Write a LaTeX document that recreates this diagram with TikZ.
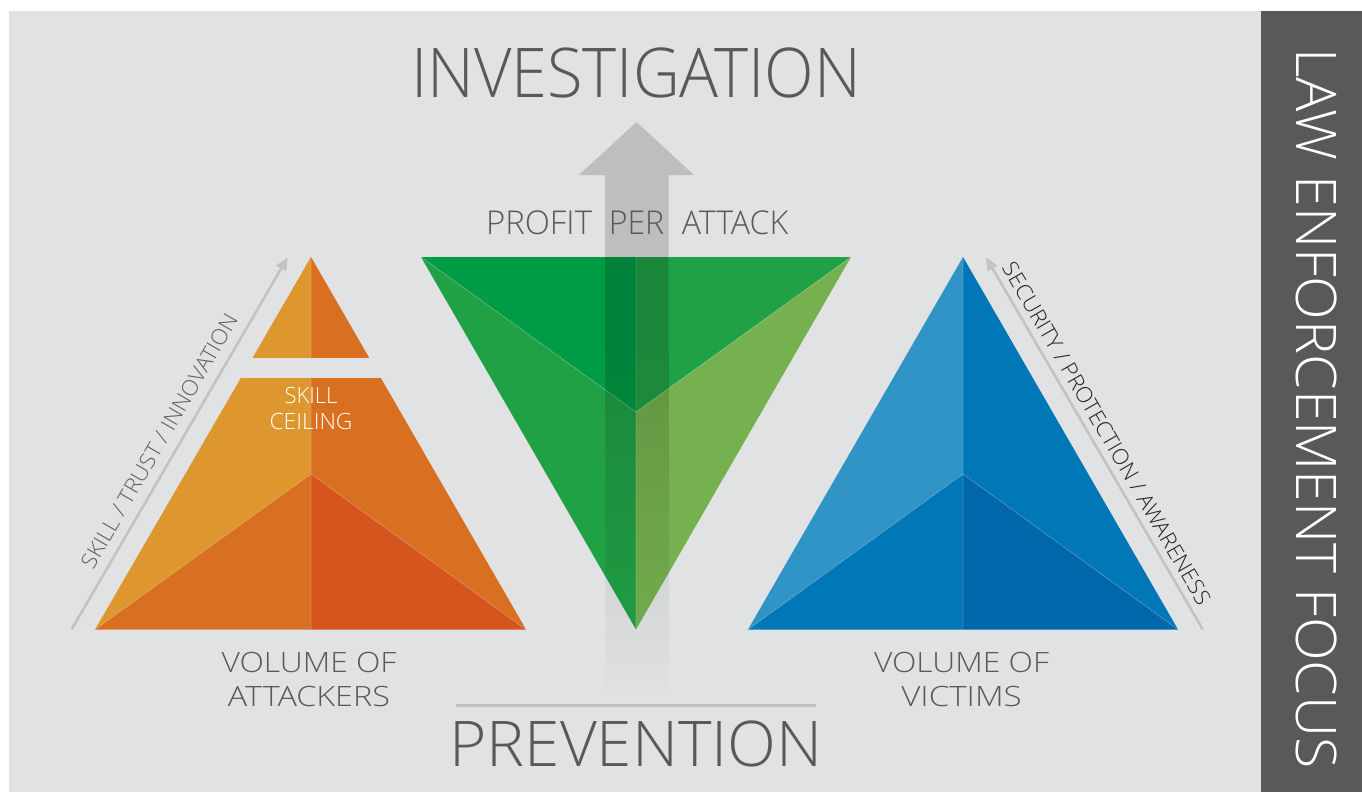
\documentclass[tikz,border=0pt]{standalone}
\usepackage{fontspec}
\IfFontExistsTF{Open Sans Light}{\setmainfont{Open Sans Light}}{\setmainfont{Open Sans}}
\usetikzlibrary{fadings,arrows.meta}
\definecolor{bgpanel}{HTML}{E1E2E4}
\definecolor{darkpanel}{HTML}{58595B}
\definecolor{txtgrey}{HTML}{58595B}
\definecolor{sidegrey}{HTML}{606163}
\definecolor{sidedark}{HTML}{262626}
\definecolor{arrgrey}{HTML}{C2C3C5}
\definecolor{orA}{HTML}{DE962E}
\definecolor{orB}{HTML}{D96F20}
\definecolor{orC}{HTML}{D6541E}
\definecolor{grA}{HTML}{009B45}
\definecolor{grB}{HTML}{21A146}
\definecolor{grC}{HTML}{76B150}
\definecolor{blA}{HTML}{3194C6}
\definecolor{blB}{HTML}{0077B6}
\definecolor{blC}{HTML}{0067AA}
\tikzfading[name=fadedown, top color=transparent!0, bottom color=transparent!100]
\newcommand\fittext[3]{\resizebox{#1pt}{\height}{\fontsize{#2pt}{#2pt}\selectfont #3}}
\begin{document}
\begin{tikzpicture}[x=1pt,y=-1pt,
  lbl/.style={inner sep=0pt, outer sep=0pt, text=txtgrey, anchor=base},
  facet/.style={white, opacity=0.22, line width=0.7pt},
  sidearrow/.style={arrgrey, line width=2.6pt, -{Triangle[length=13pt,width=11pt]}}]
\useasboundingbox (0,0) rectangle (1362,792);
\fill[white] (0,0) rectangle (1362,792);
\fill[bgpanel] (9,11) rectangle (1261,792);
\fill[darkpanel] (1261,11) rectangle (1362,792);

% orange pyramid
\coordinate (oA) at (311,257);
\coordinate (oL) at (95,629.5);
\coordinate (oR) at (526,629.5);
\coordinate (oM) at (311,474);
\coordinate (oB) at (311,629.5);
\fill[orA] (oA)--(oL)--(oM)--cycle;
\fill[orB] (oL)--(oB)--(oM)--cycle;
\fill[orB] (oA)--(oM)--(oR)--cycle;
\fill[orC] (oM)--(oB)--(oR)--cycle;
\draw[facet] (oA)--(oB) (oL)--(oM)--(oR);
\fill[bgpanel] (236,358) rectangle (388,378);

% green inverted pyramid
\coordinate (gL) at (421,257);
\coordinate (gR) at (851,257);
\coordinate (gT) at (636,257);
\coordinate (gM) at (636,412);
\coordinate (gB) at (636,629.5);
\fill[grA] (gL)--(gT)--(gM)--cycle;
\fill[grB] (gT)--(gR)--(gM)--cycle;
\fill[grB] (gL)--(gM)--(gB)--cycle;
\fill[grC] (gR)--(gM)--(gB)--cycle;
\draw[facet] (gT)--(gB) (gL)--(gM)--(gR);

% blue pyramid
\coordinate (bA) at (963,257);
\coordinate (bL) at (748,629.5);
\coordinate (bR) at (1178,629.5);
\coordinate (bM) at (963,474);
\coordinate (bB) at (963,629.5);
\fill[blA] (bA)--(bL)--(bM)--cycle;
\fill[blB] (bL)--(bB)--(bM)--cycle;
\fill[blB] (bA)--(bM)--(bR)--cycle;
\fill[blC] (bM)--(bB)--(bR)--cycle;
\draw[facet] (bA)--(bB) (bL)--(bM)--(bR);

% central arrow (translucent)
\fill[black, opacity=0.155] (636.5,122) -- (694,175) -- (668.5,175) -- (668.5,350)
  -- (605,350) -- (605,175) -- (579,175) -- cycle;
\fill[black, fill opacity=0.155, path fading=fadedown] (605,350) rectangle (668.5,700);

% side arrows
\coordinate (s1a) at (71.7,629.3);
\coordinate (s1b) at (287.7,257.3);
\coordinate (s2a) at (1202.7,629.3);
\coordinate (s2b) at (986,257.3);
\draw[sidearrow] (s1a) -- (s1b);
\draw[sidearrow] (s2a) -- (s2b);

% prevention rule
\coordinate (pl) at (456,705.6);
\coordinate (pr) at (816,705.6);
\draw[arrgrey, line width=3pt] (pl) -- (pr);

% texts
\node[lbl] (inv) at (636,97) {\fittext{450}{68.6}{INVESTIGATION}};
\node[lbl] (prev) at (636,766.7) {\fittext{373}{63}{PREVENTION}};
\node[lbl] (profit) at (539,234) {\fittext{106}{32.8}{PROFIT}};
\node[lbl] (per) at (636.5,234) {\fittext{55.5}{32.8}{PER}};
\node[lbl] (attack) at (735,234) {\fittext{106.5}{32.8}{ATTACK}};
\node[lbl, text=white] (skill) at (311,403.3) {\fittext{53}{22.4}{SKILL}};
\node[lbl, text=white] (ceil) at (311,429.3) {\fittext{83}{22.4}{CEILING}};
\node[lbl] (vo1) at (309,672) {\fittext{175}{28}{VOLUME OF}};
\node[lbl] (att) at (309,706) {\fittext{162}{28}{ATTACKERS}};
\node[lbl] (vo2) at (961.5,672) {\fittext{175}{28}{VOLUME OF}};
\node[lbl] (vic) at (961.5,706) {\fittext{120.5}{28}{VICTIMS}};
\node[inner sep=0pt, text=white, rotate=-90] (law) at (1317,408.5) {\fittext{720}{56}{LAW ENFORCEMENT FOCUS}};
\node[inner sep=0pt, text=sidegrey, rotate=59.86] (stt) at (159.2,440.8) {\fittext{290}{21.7}{SKILL / TRUST / INNOVATION}};
\node[inner sep=0pt, text=sidedark, rotate=-59.8] (spa) at (1106.7,433.3) {\fittext{392}{21.7}{SECURITY / PROTECTION / AWARENESS}};
\end{tikzpicture}
\end{document}
